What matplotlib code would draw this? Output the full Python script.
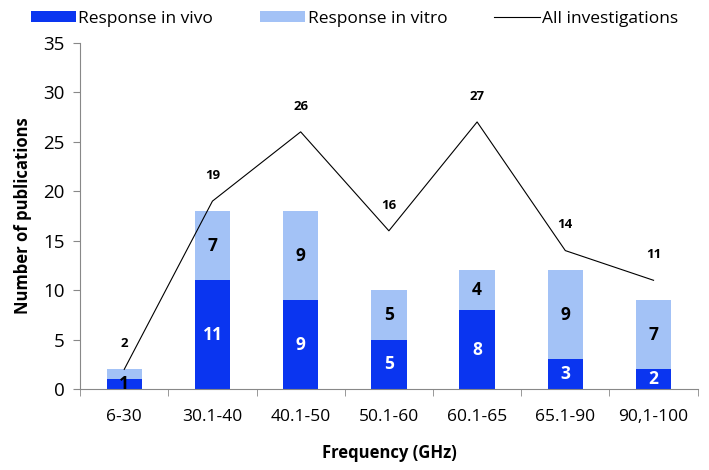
import matplotlib.pyplot as plt
import numpy as np

plt.rcParams['font.family'] = ['Open Sans', 'DejaVu Sans']

categories = ['6-30', '30.1-40', '40.1-50', '50.1-60', '60.1-65', '65.1-90', '90,1-100']
in_vivo = [1, 11, 9, 5, 8, 3, 2]
in_vitro = [1, 7, 9, 5, 4, 9, 7]
all_inv = [2, 19, 26, 16, 27, 14, 11]

dark = '#0a35f0'
light = '#a3c2f6'

fig = plt.figure(figsize=(7.09, 4.70), dpi=100)
ax = fig.add_axes([0.113, 0.172, 0.871, 0.737])
x = np.arange(len(categories))
w = 0.4
b1 = ax.bar(x, in_vivo, w, color=dark, label='Response in vivo')
b2 = ax.bar(x, in_vitro, w, bottom=in_vivo, color=light, label='Response in vitro')
l1, = ax.plot(x, all_inv, color='black', lw=0.8, label='All investigations')

for i in range(len(x)):
    c = 'black' if in_vivo[i] < 2 else 'white'
    ax.text(x[i], in_vivo[i] / 2, str(in_vivo[i]), ha='center', va='center',
            color=c, fontsize=12.5, fontweight='bold')
    if in_vitro[i] > 1:
        ax.text(x[i], in_vivo[i] + in_vitro[i] / 2, str(in_vitro[i]), ha='center',
                va='center', color='black', fontsize=12.5, fontweight='bold')
    ax.text(x[i], all_inv[i] + 2.6, str(all_inv[i]), ha='center', va='center',
            color='black', fontsize=9.5, fontweight='bold')

ax.set_xlim(-0.5, len(x) - 0.5)
ax.set_ylim(0, 35)
ax.set_yticks(range(0, 36, 5))
ax.set_xticks(x)
ax.set_xticklabels(categories, fontsize=12.5)
ax.set_xticks(np.arange(-0.5, len(x)), minor=True)
ax.tick_params(axis='x', which='major', length=0, pad=14)
ax.tick_params(axis='x', which='minor', length=5, color='#888888')
ax.tick_params(axis='y', length=5, color='#888888', labelsize=13.5, pad=6)
for s in ['top', 'right']:
    ax.spines[s].set_visible(False)
ax.spines['left'].set_color('#888888')
ax.spines['bottom'].set_color('#888888')

ax.set_xlabel('Frequency (GHz)', fontsize=12, fontweight='bold', labelpad=14)
ax.set_ylabel('Number of publications', fontsize=12, fontweight='bold', labelpad=8)

fig.legend(handles=[b1, b2, l1], loc='upper center', bbox_to_anchor=(0.5, 1.01),
           ncol=3, frameon=False, fontsize=12.5, handlelength=2.6, handleheight=0.6,
           handletextpad=0.15, columnspacing=2.7)

fig.savefig('out.png', dpi=100)
